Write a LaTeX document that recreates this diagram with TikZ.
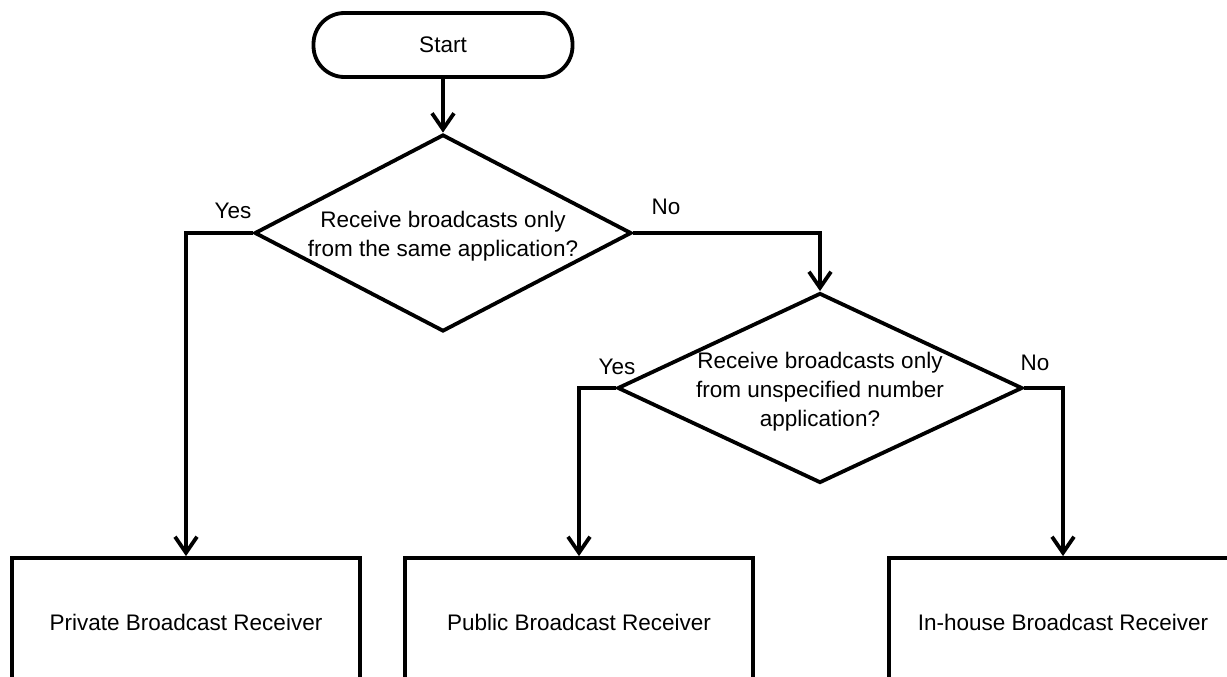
\documentclass[tikz,border=0pt]{standalone}
\usepackage{fontspec}
\setmainfont{Liberation Sans}
\usetikzlibrary{shapes.geometric,arrows.meta}

\tikzset{
  every node/.style={font=\fontsize{22.5}{29}\selectfont,inner sep=0pt,align=center},
  terminal/.style={draw,rounded corners=31pt,minimum width=259pt,minimum height=64pt},
  decision/.style={draw,diamond},
  receiver/.style={draw,minimum width=348pt,minimum height=128pt},
  flow/.style={-{Straight Barb[length=16pt,width=22pt]}}
}

\begin{document}
\begin{tikzpicture}[x=1pt,y=-1pt,line width=3.8pt,line join=miter]
      \useasboundingbox (0,0) rectangle (1227,677);
      \clip (0,0) rectangle (1227,677);
      \fill[white] (0,0) rectangle (1227,677);

      \node [terminal] (start) at (443,45) {Start};
      \node [decision,minimum width=377pt,minimum height=197pt] (q1) at (443,233) {};
      \node (q1text) at (443,236) {Receive broadcasts only\\from the same application?};
      \node [decision,minimum width=405pt,minimum height=190pt] (q2) at (820,388) {};
      \node (q2text) at (820,392) {Receive broadcasts only\\from unspecified number\\application?};

      \node [receiver] (priv) at (186,622) {Private Broadcast Receiver};
      \node [receiver] (pub) at (579,622) {Public Broadcast Receiver};
      \node [receiver] (inh) at (1063,622) {In-house Broadcast Receiver};

      \node (yes1) at (233,211) {Yes};
      \node (no1) at (666,207) {No};
      \node (yes2) at (617,367) {Yes};
      \node (no2) at (1035,363) {No};

      \draw [flow] (start.south) -- (q1.north);
      \foreach \from/\to in {q1.west/priv.north,q1.east/q2.north,q2.west/pub.north,q2.east/inh.north}
        \draw [flow] (\from) -| (\to);
    \end{tikzpicture}
\end{document}
